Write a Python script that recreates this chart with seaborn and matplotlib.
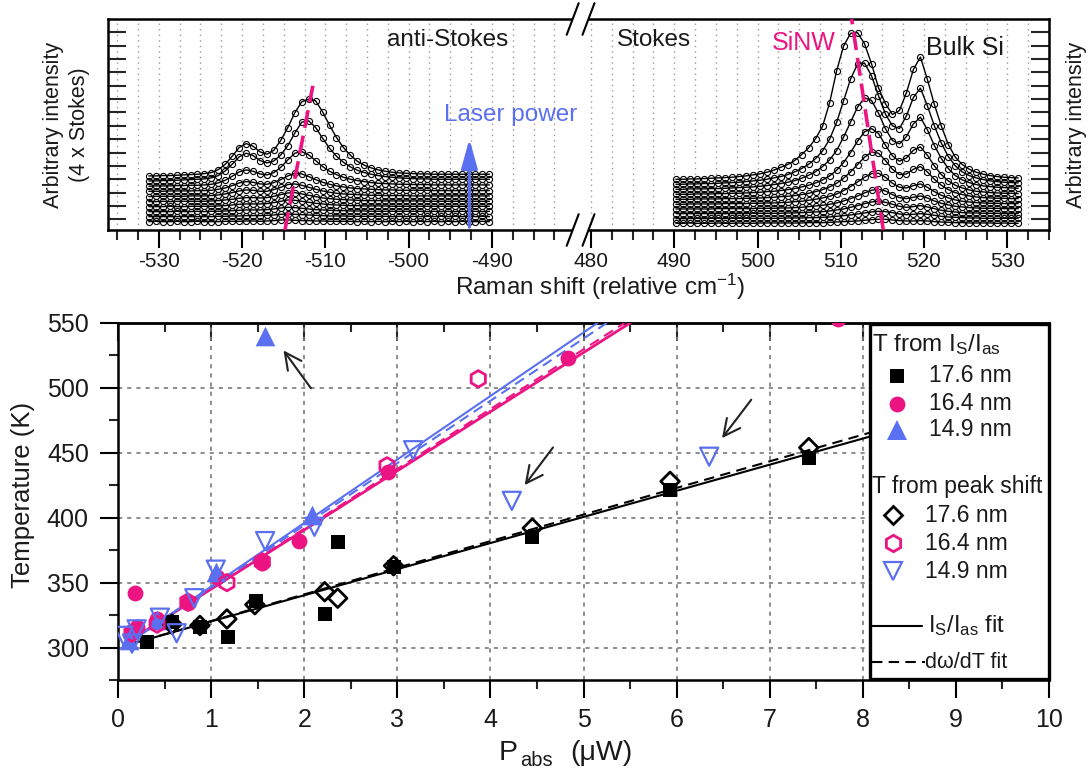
import numpy as np
import matplotlib
matplotlib.use("Agg")
import matplotlib.pyplot as plt
import matplotlib.transforms as mtransforms
from matplotlib.patches import Rectangle
import seaborn as sns

# ------------------------------------------------------------------ data
# Raman spectra (stacked, lowest laser power p1 -> highest p10), arbitrary units
as_x = np.linspace(-531.2, -490.3, 50)   # anti-Stokes measurement grid (cm-1)
s_x = np.linspace(490.2, 531.3, 50)      # Stokes measurement grid (cm-1)

as_p1 = [0,1,0,0,1,0,0,1,0, 0,0,1,1,1, 2,2,1,2,3, 5,5,4,3,3, 2,2,1,1,1, 1,0,1,0,1, 0,1,0,1,0, 1,0,1,0,1, 0,1,0,0,1, 0]
as_p2 = [0,0,0,0,0,0,0,0,0, 0,1,1,2,2, 3,3,3,4,5, 7,8,7,6,5, 4,3,2,2,2, 1,1,1,1,1, 1,0,1,0,1, 0,1,0,1,0, 1,0,1,0,1, 0]
as_p3 = [0,0,0,0,1,0,0,1,0, 1,1,2,3,4, 5,5,5,6,8, 11,13,12,10,8, 6,5,4,3,3, 2,2,2,1,1, 1,1,1,1,1, 1,0,1,0,1, 0,1,0,1,0, 1]
as_p4 = [0,0,0,1,0,0,1,1,1, 1,2,3,5,7, 8,8,8,9,12, 16,20,19,16,13, 10,8,6,5,4, 3,3,2,2,2, 2,1,1,1,1, 1,1,1,1,1, 1,1,1,1,1, 1]
as_p5 = [0,0,1,0,1,1,1,1,1, 2,3,5,7,10, 12,12,11,12,16, 21,26,27,23,19, 15,11,9,7,6, 5,4,3,3,3, 2,2,2,2,2, 2,1,1,1,1, 1,1,1,1,1, 1]
as_p6 = [0,1,1,1,1,1,2,2,2, 3,5,8,12,17, 20,19,16,16,21, 28,36,38,34,28, 22,17,13,10,8, 7,6,5,4,4, 3,3,3,3,2, 2,2,2,2,2, 2,2,2,2,2, 2]
as_p7 = [1,1,1,2,2,2,2,3,3, 4,7,11,18,26, 30,28,23,22,27, 36,47,55,53,45, 36,28,22,17,14, 11,9,8,7,6, 5,5,4,4,4, 4,4,3,3,3, 3,3,3,3,3, 3]
as_p8 = [1,2,2,2,3,3,4,4,5, 7,11,19,31,44, 50,46,38,35,42, 58,80,100,105,95, 78,60,46,36,28, 22,18,15,12,10, 9,8,7,7,6, 6,6,5,5,5, 5,5,5,5,5, 5]
as_p9 = [2,2,3,3,4,5,6,7,8, 11,18,32,52,74, 85,78,63,56,62, 80,108,145,178,182, 162,130,100,76,58, 44,34,27,22,18, 15,13,11,10,9, 8,8,7,7,7, 7,7,7,7,7, 7]
as_p10 = [3,3,4,4,5,6,7,8,10, 13,22,38,62,88, 100,92,75,68,80, 110,148,192,225,233, 228,195,155,118,88, 65,47,35,27,21, 17,14,12,11,10, 9,9,8,8,8, 8,8,8,8,8, 8]

s_p1 = [0,0,1,0,0,0,1,0,0,1,0,0,1,1,1, 1,1,1,1,2, 2,2,3,4,5, 6,7,9,11,12, 12,10,8,7,7, 8,7,5,4,3, 2,2,1,1,1, 1,0,1,0,0]
s_p2 = [0,0,0,1,0,1,1,0,1,1,1,1,1,1,1, 1,2,2,2,3, 3,4,5,7,9, 11,14,17,20,22, 21,18,14,12,13, 15,13,10,7,5, 4,3,2,2,1, 1,1,1,1,1]
s_p3 = [1,1,1,1,1,1,1,1,1,1,1,2,2,2,2, 2,3,3,4,5, 6,7,9,12,15, 20,25,31,36,38, 35,29,23,20,22, 25,21,16,11,8, 6,4,3,3,2, 2,2,1,1,1]
s_p4 = [1,1,1,1,1,1,2,2,2,2,2,2,3,3,3, 4,4,5,6,8, 10,12,15,19,25, 32,40,49,57,60, 55,44,35,32,36, 40,34,25,18,13, 9,7,5,4,3, 3,3,2,2,2]
s_p5 = [1,1,2,2,2,2,2,3,3,3,3,4,4,5,5, 6,7,9,10,13, 16,20,25,32,42, 54,68,82,93,94, 82,64,52,50,57, 62,52,39,28,20, 14,10,8,6,5, 4,4,3,3,3]
s_p6 = [2,2,2,3,3,3,3,4,4,4,5,5,6,7,8, 10,11,13,16,20, 25,31,39,50,65, 84,106,128,143,140, 118,92,76,78,92, 100,84,62,44,31, 22,16,12,9,7, 6,5,5,4,4]
s_p7 = [3,3,3,4,4,4,5,5,6,6,7,8,9,11,12, 14,17,20,25,30, 37,46,58,75,98, 128,162,190,200,185, 150,118,102,112,135, 145,120,88,62,43, 30,22,16,12,10, 8,7,6,6,5]
s_p8 = [4,4,5,5,5,6,6,7,8,9,10,11,13,15,18, 21,25,30,37,46, 57,72,92,120,160, 205,250,278,270,232, 185,150,140,162,200, 220,182,135,96,66, 45,32,24,18,14, 12,10,9,8,7]
s_p9 = [5,5,6,6,7,7,8,9,10,11,13,15,17,20,24, 28,34,42,52,65, 82,105,140,190,255, 320,365,368,330,270, 215,180,172,210,265, 293,240,180,128,88, 60,42,31,24,19, 15,13,11,10,9]
s_p10 = [6,6,7,7,8,9,10,11,12,14,16,19,22,27,33, 42,50,62,80,100, 128,165,235,330,405, 443,445,412,352,280, 232,200,212,265,335, 372,305,230,165,110, 72,50,36,27,21, 17,14,12,11,10]

as_offsets = [25, 40, 55, 70, 85, 100, 115, 130, 145, 159]
s_offsets = [20, 34, 48, 62, 76, 90, 104, 118, 132, 146]

# SiNW peak guide lines (cm-1, intensity)
guide_as_x = [-514.85, -511.5]
guide_as_y = [0, 432]
guide_s_x = [515.1, 511.3]
guide_s_y = [0, 632]

top_major_left = [-530, -520, -510, -500, -490]
top_major_right = [480, 490, 500, 510, 520, 530]

# Temperature vs absorbed power
sq_x = [0.31, 0.58, 0.88, 1.18, 1.48, 2.22, 2.36, 2.96, 4.45, 5.93, 7.42]
sq_T = [304, 320, 316, 308, 336, 326, 381, 362, 385, 421, 446]
ci_x = [0.15, 0.18, 0.20, 0.42, 0.75, 1.06, 1.55, 1.94, 2.90, 4.83, 7.73]
ci_T = [313, 342, 316, 322, 334, 354, 365, 382, 435, 523, 553]
tr_x = [0.12, 0.42, 1.05, 2.08, 1.58]
tr_T = [306, 321, 358, 402, 540]
di_x = [0.58, 0.88, 1.17, 1.47, 2.22, 2.36, 2.96, 4.45, 5.93, 7.42]
di_T = [318, 317, 322, 333, 343, 338, 363, 392, 428, 454]
hx_x = [0.15, 0.42, 0.75, 1.17, 1.55, 2.89, 3.87]
hx_T = [311, 318, 335, 350, 366, 440, 507]
dt_x = [0.06, 0.15, 0.20, 0.45, 0.63, 0.82, 1.05, 1.58, 2.11, 3.17, 4.23, 6.35]
dt_T = [309, 303, 314, 323, 311, 338, 360, 382, 393, 452, 413, 447]

# linear fits (end points)
fit176_x = [0.1, 8.1]
fit176_I = [302, 463]
fit176_W = [302, 466]
fit164_xI = [0.1, 5.5]
fit164_xW = [0.1, 5.44]
fit164_T = [304, 550]
fit149_xI = [0.1, 5.15]
fit149_xW = [0.1, 5.25]
fit149_T = [303, 550]

# arrows marking outliers (tail -> head)
arrows = [((2.09, 498), (1.76, 530.6)),
          ((4.69, 455.8), (4.35, 423.4)),
          ((6.82, 492.6), (6.47, 459.6))]

# ------------------------------------------------------------------ style
BLACK = "#000000"
TXT = "#1a1a1a"
PINK = "#ec1483"
BLUE = "#5a70f0"
SHIFT = 958.1  # axis break: Stokes side drawn at (x - SHIFT)

sns.set_theme(style="ticks")
plt.rcParams["font.family"] = ["Liberation Sans", "DejaVu Sans"]
plt.rcParams["mathtext.fontset"] = "custom"
plt.rcParams["mathtext.rm"] = "Liberation Sans"
plt.rcParams["mathtext.it"] = "Liberation Sans:italic"
plt.rcParams["mathtext.bf"] = "Liberation Sans:bold"

W, H = 1088, 773
fig = plt.figure(figsize=(10.88, 7.73), dpi=100)
ax1 = fig.add_axes([108 / W, 1 - 230 / H, 941 / W, 211 / H])
ax2 = fig.add_axes([118 / W, 1 - 680 / H, 931 / W, 357 / H])

# ------------------------------------------------------------------ top panel
as_list = [as_p1, as_p2, as_p3, as_p4, as_p5, as_p6, as_p7, as_p8, as_p9, as_p10]
s_list = [s_p1, s_p2, s_p3, s_p4, s_p5, s_p6, s_p7, s_p8, s_p9, s_p10]
line_kw = dict(color=BLACK, lw=1.0, marker="o", ms=4.4, mfc="none", mec=BLACK,
               mew=0.8, sort=False, legend=False, zorder=3)
for sp, off in zip(as_list, as_offsets):
    sns.lineplot(x=as_x, y=np.array(sp) + off, ax=ax1, **line_kw)
for sp, off in zip(s_list, s_offsets):
    sns.lineplot(x=s_x - SHIFT, y=np.array(sp) + off, ax=ax1, **line_kw)

ax1.plot(guide_as_x, guide_as_y, color=PINK, lw=2.6, ls=(0, (5, 2.2)), zorder=4)
ax1.plot(np.array(guide_s_x) - SHIFT, guide_s_y, color=PINK, lw=2.6,
         ls=(0, (5, 2.2)), zorder=4, clip_on=True)

ax1.set_xlim(-536.1, 534.9 - SHIFT)
ax1.set_ylim(0, 632)

major_pos = list(top_major_left) + [v - SHIFT for v in top_major_right]
major_lab = [str(v) for v in top_major_left] + [str(v) for v in top_major_right]
minor_left = [v for v in np.arange(-535, -482.4, 2.5) if v not in top_major_left]
minor_right = [v - SHIFT for v in np.arange(480, 535.1, 2.5) if v not in top_major_right]
ax1.set_xticks(major_pos)
ax1.set_xticklabels(major_lab)
ax1.set_xticks(minor_left + minor_right, minor=True)
ax1.set_yticks([32 + 40 * k for k in range(15)])
ax1.set_yticklabels([])
ax1.tick_params(axis="x", which="major", direction="out", length=13, width=1.5,
                labelsize=15, pad=3, colors=BLACK, labelcolor=TXT)
ax1.tick_params(axis="x", which="minor", direction="out", length=7, width=1.5)
ax1.tick_params(axis="y", which="major", direction="in", length=13, width=1.5,
                left=True, right=True)
ax1.grid(True, axis="x", which="both", ls=(0, (1, 3)), color="#9a9a9a", lw=1.0)
ax1.set_axisbelow(True)
for s in ax1.spines.values():
    s.set_linewidth(1.8)
    s.set_color(BLACK)

# axis break marks
trans = mtransforms.blended_transform_factory(ax1.transData, ax1.transAxes)
for yb in (0, 1):
    ax1.add_patch(Rectangle((-480.3, yb - 0.02), 1.9, 0.04, transform=trans,
                            facecolor="white", edgecolor="none", clip_on=False, zorder=10))
    for uc in (-480.3, -478.4):
        ax1.plot([uc - 0.72, uc + 0.72], [yb - 0.075, yb + 0.075], transform=trans,
                 color=BLACK, lw=1.5, clip_on=False, zorder=11)

ax1.annotate("", xy=(-492.7, 281), xytext=(-492.7, 0),
             arrowprops=dict(arrowstyle="-|>,head_length=0.9,head_width=0.25",
                             color=BLUE, lw=2.2, mutation_scale=20), zorder=5)
ax1.text(-487.8, 345, "Laser power", color=BLUE, fontsize=17.5, ha="center", va="center")
ax1.text(-495.3, 570, "anti-Stokes", color=TXT, fontsize=17.5, ha="center", va="center")
ax1.text(-470.5, 570, "Stokes", color=TXT, fontsize=17.5, ha="center", va="center")
ax1.text(-452.5, 561, "SiNW", color=PINK, fontsize=18, ha="center", va="center")
ax1.text(-433.2, 546, "Bulk Si", color=TXT, fontsize=18, ha="center", va="center")

ax1.text(-0.044, 0.5, "Arbitrary intensity\n(4 x Stokes)", transform=ax1.transAxes,
         rotation=90, ha="center", va="center", multialignment="center",
         fontsize=15.5, linespacing=1.32, color=TXT)
ax1.text(1.0297, 0.5, "Arbitrary intensity", transform=ax1.transAxes,
         rotation=90, ha="center", va="center", fontsize=15.5, color=TXT)
ax1.text(0.523, -0.27, r"Raman shift (relative cm$^{-1}$)", transform=ax1.transAxes,
         ha="center", va="center", fontsize=17.5, color=TXT)

# ------------------------------------------------------------------ bottom panel
ax2.set_xlim(0, 10)
ax2.set_ylim(275, 550)

sns.lineplot(x=fit176_x, y=fit176_I, ax=ax2, color=BLACK, lw=1.5, legend=False, zorder=3)
sns.lineplot(x=fit176_x, y=fit176_W, ax=ax2, color=BLACK, lw=1.5, ls=(0, (5, 3)), legend=False, zorder=3)
sns.lineplot(x=fit164_xI, y=fit164_T, ax=ax2, color=PINK, lw=2.0, legend=False, zorder=3)
sns.lineplot(x=fit164_xW, y=fit164_T, ax=ax2, color=PINK, lw=1.5, ls=(0, (5, 3)), legend=False, zorder=3)
sns.lineplot(x=fit149_xI, y=fit149_T, ax=ax2, color=BLUE, lw=1.5, legend=False, zorder=3)
sns.lineplot(x=fit149_xW, y=fit149_T, ax=ax2, color=BLUE, lw=1.5, ls=(0, (5, 3)), legend=False, zorder=3)

sns.scatterplot(x=sq_x, y=sq_T, ax=ax2, marker="s", s=95, color=BLACK, edgecolor=BLACK, linewidth=0, zorder=4, legend=False)
sns.scatterplot(x=ci_x, y=ci_T, ax=ax2, marker="o", s=130, color=PINK, edgecolor=PINK, linewidth=0, zorder=4, legend=False)
sns.scatterplot(x=tr_x, y=tr_T, ax=ax2, marker="^", s=200, color=BLUE, edgecolor=BLUE, linewidth=0, zorder=4, legend=False)
sns.scatterplot(x=di_x, y=di_T, ax=ax2, marker="D", s=90, facecolor="none", edgecolor=BLACK, linewidth=2.0, zorder=5, legend=False)
sns.scatterplot(x=hx_x, y=hx_T, ax=ax2, marker="h", s=140, facecolor="none", edgecolor=PINK, linewidth=2.0, zorder=5, legend=False)
sns.scatterplot(x=dt_x, y=dt_T, ax=ax2, marker="v", s=170, facecolor="none", edgecolor=BLUE, linewidth=1.6, zorder=5, legend=False)

for tail, head in arrows:
    ax2.annotate("", xy=head, xytext=tail,
                 arrowprops=dict(arrowstyle="->,head_length=0.6,head_width=0.3",
                                 color="#222222", lw=1.5, mutation_scale=20), zorder=6)

ax2.set_xticks(range(11))
ax2.set_xticks(np.arange(0.5, 10, 1.0), minor=True)
ax2.set_yticks(range(300, 551, 50))
ax2.set_yticks(range(275, 551, 50), minor=True)
ax2.tick_params(axis="both", which="major", direction="out", length=13, width=1.5,
                labelsize=18, colors=BLACK, labelcolor=TXT)
ax2.tick_params(axis="both", which="minor", direction="out", length=6.5, width=1.5)
ax2.tick_params(axis="x", pad=7, top=False)
ax2.tick_params(axis="y", pad=8, right=False)
ax2.grid(True, which="major", ls=(0, (2.5, 3)), color="#7a7a7a", lw=1.2)
ax2.set_axisbelow(True)
for s in ax2.spines.values():
    s.set_linewidth(1.8)
    s.set_color(BLACK)

sec = ax2.secondary_xaxis("top")
sec.set_xticks(range(11))
sec.set_xticks(np.arange(0.5, 10, 1.0), minor=True)
sec.set_xticklabels([])
sec.tick_params(axis="x", which="major", direction="in", length=13, width=1.5)
sec.tick_params(axis="x", which="minor", direction="in", length=6.5, width=1.5)
sec.spines["top"].set_linewidth(1.8)

ax2.set_ylabel("")
ax2.set_xlabel("")
ax2.text(-0.102, 0.518, "Temperature (K)", transform=ax2.transAxes, rotation=90,
         ha="center", va="center", fontsize=18.5, color=TXT)
# x label built from pieces (large subscript as in the original)
fig.text(499 / W, 1 - 760 / H, "P", fontsize=20.5, ha="left", va="baseline", color=TXT)
fig.text(520 / W, 1 - 766 / H, "abs", fontsize=14.5, ha="left", va="baseline", color=TXT)
fig.text(570 / W, 1 - 760 / H, "(\u03bcW)", fontsize=20.5, ha="left", va="baseline", color=TXT)

# custom legend box
lx0 = (870 - 118) / 931
ax2.add_patch(Rectangle((lx0, 0.004), 1 - lx0, 0.992, transform=ax2.transAxes,
                        facecolor="white", edgecolor=BLACK, lw=2.4, zorder=8, clip_on=False))
TA = ax2.transAxes
def ay(py):
    return (680 - py) / 357
def axx(px):
    return (px - 118) / 931

ax2.text(axx(872), ay(345), r"T from I$_{\rm S}$/I$_{\rm as}$", transform=TA, fontsize=17.5,
         ha="left", va="center", zorder=9, color=TXT)
ax2.text(axx(872), ay(487), "T from peak shift", transform=TA, fontsize=16.5,
         ha="left", va="center", zorder=9, color=TXT)
entries = [
    (897, 376, "s", 9.7, BLACK, BLACK, 0, "17.6 nm"),
    (897, 404, "o", 11.4, PINK, PINK, 0, "16.4 nm"),
    (897, 430, "^", 14.0, BLUE, BLUE, 0, "14.9 nm"),
    (893, 515, "D", 9.5, "none", BLACK, 2.0, "17.6 nm"),
    (893, 543, "h", 11.8, "none", PINK, 2.0, "16.4 nm"),
    (893, 571, "v", 13.0, "none", BLUE, 1.6, "14.9 nm"),
]
for px, py, mk, ms, fc, ec, mew, lab in entries:
    ax2.plot([axx(px)], [ay(py)], transform=TA, marker=mk, ms=ms, mfc=fc, mec=ec,
             mew=mew, ls="none", zorder=9, clip_on=False)
    ax2.text(axx(px + 32), ay(py), lab, transform=TA, fontsize=16.5, ha="left",
             va="center", zorder=9, color=TXT)
ax2.plot([axx(870), axx(922)], [ay(626), ay(626)], transform=TA, color=BLACK, lw=1.5,
         zorder=9, clip_on=False)
ax2.text(axx(928), ay(626), r"I$_{\rm S}$/I$_{\rm as}$ fit", transform=TA, fontsize=17,
         ha="left", va="center", zorder=9, color=TXT)
ax2.plot([axx(872), axx(925)], [ay(662), ay(662)], transform=TA, color=BLACK, lw=1.5,
         ls=(0, (5, 3)), zorder=9, clip_on=False)
ax2.text(axx(925), ay(662), "d\u03c9/dT fit", transform=TA, fontsize=15.5,
         ha="left", va="center", zorder=9, color=TXT)

fig.savefig("out.png", dpi=100)
